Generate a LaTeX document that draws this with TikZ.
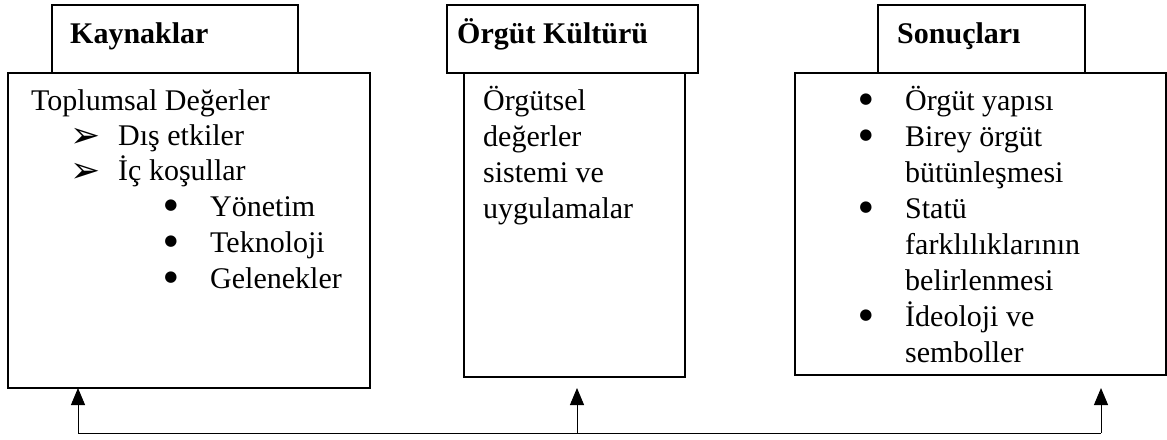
\documentclass[tikz,border=0pt]{standalone}
\usepackage{fontspec}
\setmainfont{Liberation Serif}
\newfontfamily\dingfont{DejaVu Sans}
\usetikzlibrary{arrows.meta}
\begin{document}
\begin{tikzpicture}[x=1pt,y=-1pt,
  frame/.style={draw=black,line width=2.6pt,fill=white,inner sep=0pt,outer sep=0pt,anchor=north west},
  txt/.style={anchor=base west,inner sep=0pt,font=\fontsize{30}{36}\selectfont},
  head/.style={txt,font=\fontsize{30}{36}\selectfont\bfseries},
  dot/.style={anchor=center,inner sep=0pt,font=\dingfont\fontsize{15}{18}\selectfont},
  arr/.style={anchor=center,inner sep=0pt,font=\dingfont\fontsize{36}{40}\selectfont},
  link/.style={draw=black,line width=1pt},
  tip/.style={link,-{Triangle[length=17pt,width=14pt]}}]
\useasboundingbox (0,0) rectangle (1167,439);

% header boxes
\node[frame,minimum width=246pt,minimum height=68pt] (hk) at (52,5) {};
\node[frame,minimum width=251pt,minimum height=68pt] (ho) at (447,5) {};
\node[frame,minimum width=207pt,minimum height=68pt] (hs) at (878,5) {};

% main boxes
\node[frame,minimum width=362pt,minimum height=315pt] (bk) at (8,73) {};
\node[frame,minimum width=221pt,minimum height=304pt] (bo) at (464,73) {};
\node[frame,minimum width=371pt,minimum height=302pt] (bs) at (795,73) {};

% headings
\node[head] (tk) at (70,43) {Kaynaklar};
\node[head] (to) at (457,43) {Örgüt Kültürü};
\node[head] (ts) at (897,43) {Sonuçları};

% sources
\node[txt] (k0) at (31,110) {Toplumsal Değerler};
\node[arr] (a1) at (86,138) {➢};
\node[txt] (k1) at (118,145) {Dış etkiler};
\node[arr] (a2) at (86,173) {➢};
\node[txt] (k2) at (118,180) {İç koşullar};
\node[dot] (d1) at (171,206) {●};
\node[txt] (k3) at (210,216) {Yönetim};
\node[dot] (d2) at (171,242) {●};
\node[txt] (k4) at (210,252) {Teknoloji};
\node[dot] (d3) at (171,278) {●};
\node[txt] (k5) at (210,288) {Gelenekler};

% culture
\node[txt] (o1) at (483,110) {Örgütsel};
\node[txt] (o2) at (483,146) {değerler};
\node[txt] (o3) at (483,182) {sistemi ve};
\node[txt] (o4) at (483,218) {uygulamalar};

% outcomes
\node[dot] (e1) at (866,100) {●};
\node[txt] (s1) at (905,110) {Örgüt yapısı};
\node[dot] (e2) at (866,136) {●};
\node[txt] (s2) at (905,146) {Birey örgüt};
\node[txt] (s3) at (905,182) {bütünleşmesi};
\node[dot] (e3) at (866,208) {●};
\node[txt] (s4) at (905,218) {Statü};
\node[txt] (s5) at (905,254) {farklılıklarının};
\node[txt] (s6) at (905,290) {belirlenmesi};
\node[dot] (e4) at (866,316) {●};
\node[txt] (s7) at (905,326) {İdeoloji ve};
\node[txt] (s8) at (905,362) {semboller};

% feedback connector
\coordinate (c1) at (78,433);
\coordinate (c2) at (577,433);
\coordinate (c3) at (1101,433);
\coordinate (p1) at (78,388);
\coordinate (p2) at (577,388);
\coordinate (p3) at (1101,388);
\draw[link] (c1) -- (c3);
\draw[tip] (c1) -- (p1);
\draw[tip] (c2) -- (p2);
\draw[tip] (c3) -- (p3);
\end{tikzpicture}
\end{document}
